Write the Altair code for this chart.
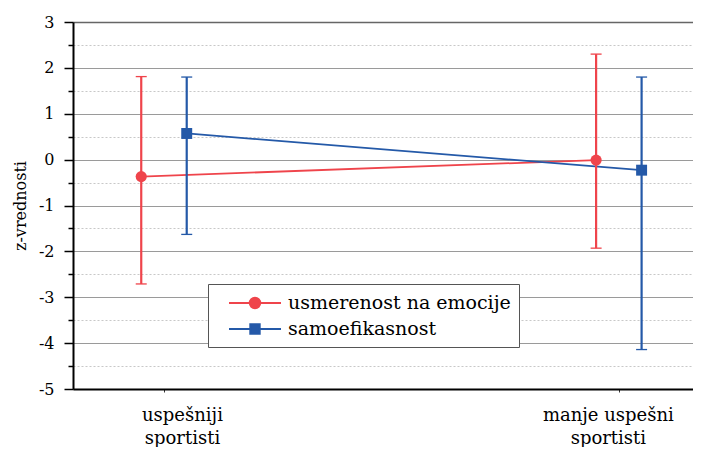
import json
import altair as alt
import pandas as pd

# ---- data ----
group_lines = [["uspešniji", "sportisti"], ["manje uspešni", "sportisti"]]
series = ["usmerenost na emocije", "samoefikasnost"]
mean_emocije = [-0.37, -0.01]
mean_samoef = [0.57, -0.23]
upper_emocije = [1.81, 2.30]
upper_samoef = [1.80, 1.80]
lower_emocije = [-2.71, -1.93]
lower_samoef = [-1.63, -4.14]
colors = ["#EF444B", "#2459A8"]

means = [mean_emocije, mean_samoef]
uppers = [upper_emocije, upper_samoef]
lowers = [lower_emocije, lower_samoef]
dodge = [-0.05, 0.05]

rows = []
for si, s in enumerate(series):
    for gi in range(len(group_lines)):
        rows.append({
            "series": s,
            "group": gi,
            "xpos": gi + dodge[si],
            "mean": means[si][gi],
            "hi": uppers[si][gi],
            "lo": lowers[si][gi],
        })
df = pd.DataFrame(rows)

SERIF = "DejaVu Serif"
W, H = 620, 367

xscale = alt.Scale(domain=[-0.2, 1.163], nice=False, zero=False)
yscale = alt.Scale(domain=[-5, 3], nice=False, zero=False)
cscale = alt.Scale(domain=series, range=colors)

label_expr = " : ".join(
    f"datum.value == {i} ? {json.dumps(l)}" for i, l in enumerate(group_lines)
) + " : ''"

x_axis = alt.Axis(
    values=list(range(len(group_lines))),
    title=None,
    grid=False,
    domainColor="black",
    domainWidth=2,
    tickColor="#333",
    tickSize=3,
    labelExpr=label_expr,
    labelFont=SERIF,
    labelFontSize=18,
    labelColor="black",
    labelPadding=14,
    labelLineHeight=23,
    labelOffset={"condition": {"test": "datum.value == 0", "value": 18}, "value": -11},
)

y_axis = alt.Axis(
    values=[v / 2 for v in range(-10, 7)],
    title="z-vrednosti",
    titleFont=SERIF,
    titleFontSize=16,
    titleFontWeight="normal",
    titleColor="black",
    titlePadding=10,
    labelExpr="datum.value % 1 == 0 ? toString(datum.value) : ''",
    labelFont=SERIF,
    labelFontSize=16,
    labelColor="black",
    labelPadding=10,
    domainColor="black",
    domainWidth=2,
    tickColor="black",
    tickWidth=1.5,
    tickSize={"condition": {"test": "datum.value % 1 == 0", "value": 9}, "value": 5},
    grid=True,
    gridColor={"condition": [
        {"test": "datum.value == 3", "value": "#666666"},
        {"test": "datum.value % 1 != 0", "value": "#c8c8c8"},
    ], "value": "#9a9a9a"},
    gridDash={"condition": {"test": "datum.value % 1 != 0", "value": [2, 2]}, "value": []},
    gridWidth={"condition": {"test": "datum.value == 3", "value": 1.6}, "value": 1.1},
)

circle_path = "M-2.6,0H-0.52M0.52,0H2.6M-0.52,0A0.52,0.52,0,1,0,0.52,0A0.52,0.52,0,1,0,-0.52,0Z"
square_path = "M-2.6,0H-0.47M0.47,0H2.6M-0.47,-0.47H0.47V0.47H-0.47Z"

legend = alt.Legend(
    title=None,
    orient="none",
    legendX=135,
    legendY=262,
    fillColor="white",
    strokeColor="#555555",
    padding=8,
    symbolSize=400,
    symbolStrokeWidth=2,
    symbolOpacity=1,
    symbolOffset=28,
    labelOffset=22,
    labelLimit=400,
    rowPadding=5,
    labelFont=SERIF,
    labelFontSize=19,
    labelColor="black",
)

base = alt.Chart(df)
color_plain = alt.Color("series:N", scale=cscale)


def X(field):
    return alt.X(f"{field}:Q", scale=xscale, axis=x_axis)


def Y(field):
    return alt.Y(f"{field}:Q", scale=yscale, axis=y_axis)


legend_layer = base.mark_point(
    filled=True, opacity=1, fillOpacity=1, strokeOpacity=1, size=0, strokeWidth=2
).encode(
    x=X("xpos"),
    y=Y("mean"),
    color=alt.Color("series:N", scale=cscale, legend=legend),
    stroke=alt.Stroke("series:N", scale=cscale, legend=legend),
    shape=alt.Shape("series:N", scale=alt.Scale(domain=series, range=[circle_path, square_path]), legend=legend),
)

lines = base.mark_line(strokeWidth=1.8).encode(
    x=X("xpos"), y=Y("mean"), color=color_plain, detail="series:N",
)

rules = base.mark_rule(strokeWidth=2.2).encode(
    x=X("xpos"), y=Y("lo"), y2="hi:Q", color=color_plain
)

cap_hi = base.mark_tick(orient="horizontal", size=11, thickness=1.3, opacity=1).encode(
    x=X("xpos"), y=Y("hi"), color=color_plain
)
cap_lo = base.mark_tick(orient="horizontal", size=11, thickness=1.3, opacity=1).encode(
    x=X("xpos"), y=Y("lo"), color=color_plain
)

pt_circle = base.transform_filter(alt.datum.series == series[0]).mark_point(
    shape="circle", filled=True, size=125, opacity=1
).encode(x=X("xpos"), y=Y("mean"), color=color_plain)

pt_square = base.transform_filter(alt.datum.series == series[1]).mark_point(
    shape="square", filled=True, size=120, opacity=1
).encode(x=X("xpos"), y=Y("mean"), color=color_plain)

chart = alt.layer(legend_layer, lines, rules, cap_hi, cap_lo, pt_circle, pt_square).properties(
    width=W,
    height=H,
    autosize=alt.AutoSizeParams(type="none"),
    padding={"left": 65, "top": 14, "right": 0, "bottom": 58},
).configure_view(stroke=None).configure(background="white")

chart.save("out.html", embed_options={"renderer": "svg", "actions": False})
